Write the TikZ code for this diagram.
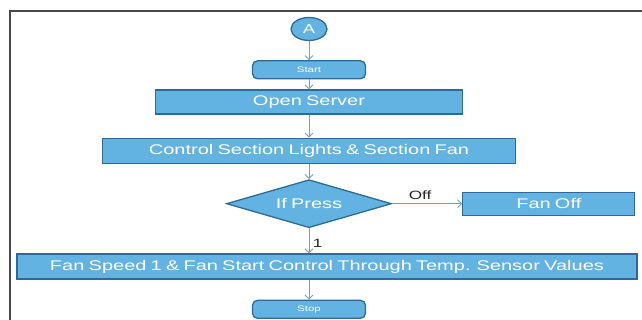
\documentclass[tikz,border=0pt]{standalone}
\usepackage{fontspec}
\usepackage{tikz}
\usetikzlibrary{positioning,arrows.meta,shapes.geometric}
\newfontfamily\cajafont[FakeStretch=1.43,WordSpace=0.75]{Liberation Sans}
\definecolor{celeste}{HTML}{62B2E2}
\definecolor{marino}{HTML}{2F6A96}
\definecolor{acero}{HTML}{7E9CB8}
\definecolor{marco}{HTML}{4A4A4A}

\begin{document}
\begin{tikzpicture}[x=1pt,y=1pt,
      caja/.style={draw=marino,fill=celeste,line width=1.3pt,text=white,
                   font=\cajafont\fontsize{14}{16}\selectfont,inner sep=0pt},
      terminal/.style={caja,rounded corners=5pt,minimum width=113pt,
                   minimum height=18pt,font=\cajafont\fontsize{8}{9}\selectfont},
      rombo/.style={caja,diamond,aspect=3.4,minimum width=165pt,minimum height=48pt},
      flecha/.style={-{Straight Barb[length=4pt,width=8pt]},draw=acero,line width=0.9pt},
      etiqueta/.style={font=\cajafont\fontsize{12}{14}\selectfont,text=black!85}]
    \useasboundingbox (0,0) rectangle (642,320);
    \draw[marco,line width=1.4pt] (10,0) -- (10,309) -- (642,309);

    \node[caja,ellipse,minimum width=36pt,minimum height=23pt,
          font=\cajafont\fontsize{13}{14}\selectfont] (A) at (309,291) {A};
    \node[terminal,below=19pt of A] (inicio) {Start};
    \node[caja,minimum width=307pt,minimum height=24pt,below=10pt of inicio] (servidor) {Open Server};
    \node[caja,minimum width=413pt,minimum height=25pt,below=23pt of servidor] (control) {Control Section Lights \& Section Fan};
    \node[rombo,below=15pt of control] (pulsa) {If Press};
    \node[caja,minimum width=172pt,minimum height=23pt,right=70pt of pulsa] (apagado) {Fan Off};
    \node[caja,minimum width=620pt,minimum height=25pt,below=25pt of pulsa,xshift=18pt] (velocidad) {Fan Speed 1 \& Fan Start Control Through Temp. Sensor Values};
    \node[terminal,below=20pt of velocidad,xshift=-18pt] (fin) {Stop};

    \draw[flecha] (A) -- (inicio);
    \draw[flecha] (inicio) -- (servidor);
    \draw[flecha] (servidor) -- (control);
    \draw[flecha] (control) -- (pulsa);
    \draw[flecha] (pulsa) -- node[etiqueta,above,pos=0.4] {Off} (apagado);
    \draw[flecha] (pulsa.south) -- node[etiqueta,right,pos=0.6] {1} (pulsa.south |- velocidad.north);
    \draw[flecha] (fin.north |- velocidad.south) -- (fin);
  \end{tikzpicture}
\end{document}
